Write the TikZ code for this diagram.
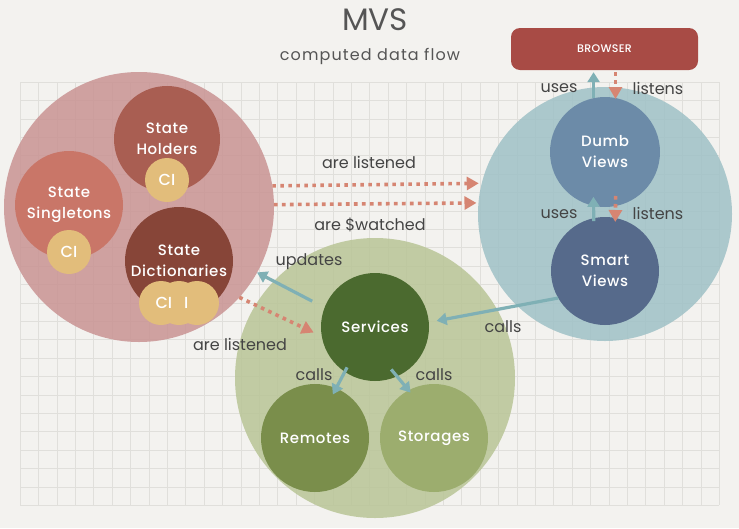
\documentclass[tikz,border=0pt]{standalone}
\usepackage{fontspec}
\setmainfont{Poppins}
\newfontfamily\nodefont{Poppins Medium}
\usetikzlibrary{arrows.meta}

\definecolor{paper}{HTML}{F3F2EF}
\definecolor{gridline}{HTML}{E0DFDB}
\definecolor{inkgrey}{HTML}{444444}
\definecolor{titlegrey}{HTML}{555555}
\definecolor{stateouter}{HTML}{C99393}
\definecolor{holders}{HTML}{A95E52}
\definecolor{singletons}{HTML}{C97668}
\definecolor{dicts}{HTML}{874538}
\definecolor{ciyellow}{HTML}{E2BD7B}
\definecolor{viewsouter}{HTML}{9FC1C6}
\definecolor{dumb}{HTML}{6C8BA8}
\definecolor{smart}{HTML}{566A8B}
\definecolor{browserred}{HTML}{A84B45}
\definecolor{servouter}{HTML}{B9C596}
\definecolor{services}{HTML}{4B6A2F}
\definecolor{remotes}{HTML}{7A8E4B}
\definecolor{storages}{HTML}{9CAD6E}
\definecolor{arrowteal}{HTML}{7FB0B5}
\definecolor{dotsalmon}{HTML}{D68572}

\tikzset{
  disc/.style={circle, inner sep=0pt, outer sep=0pt, text=white, align=center,
    font=\nodefont\fontsize{15}{22}\selectfont\addfontfeatures{LetterSpace=4}},
  group/.style={circle, inner sep=0pt, outer sep=0pt, fill opacity=0.85},
  cibadge/.style={circle, inner sep=0pt, outer sep=0pt, minimum size=44pt, fill=ciyellow,
    text=white, font=\nodefont\fontsize{16}{16}\selectfont},
  lbl/.style={text=inkgrey, inner sep=0pt, font=\fontsize{16}{16}\selectfont},
  tealarrow/.style={draw=arrowteal, line width=3.2pt, -{Triangle[length=10pt,width=12pt]}},
  dotarrow/.style={draw=dotsalmon, line width=3.6pt, dash pattern=on 3.6pt off 4.4pt,
    -{Triangle[length=12pt,width=13pt]}},
}

\begin{document}
\begin{tikzpicture}[x=1pt,y=-1pt]
\useasboundingbox (0,0) rectangle (739,528);
\fill[paper] (0,0) rectangle (739,528);

% squared paper
\foreach \i in {0,...,38}
  \draw[gridline, line width=0.6pt] (20+\i*18.4,82) -- (20+\i*18.4,505.2);
\foreach \j in {0,...,23}
  \draw[gridline, line width=0.6pt] (20,82+\j*18.4) -- (719.2,82+\j*18.4);

% headings
\node[text=titlegrey, font=\fontsize{31}{31}\selectfont] (title) at (375,20) {MVS};
\node[text=titlegrey, font=\fontsize{16}{16}\selectfont\addfontfeatures{LetterSpace=7}] (subtitle) at (370,56) {computed data flow};

% state group
\node[group, minimum size=270pt, fill=stateouter] (state) at (139,207) {};
\node[disc, minimum size=106pt, fill=holders] (holders) at (167,139) {State\\[-1pt]Holders};
\node[cibadge] (ciholders) at (167,180) {CI};
\node[disc, minimum size=108pt, fill=singletons] (singletons) at (69,205) {State\\[-1pt]Singletons};
\node[cibadge] (cisingle) at (69,252) {CI};
\node[disc, minimum size=108pt, fill=dicts] (dicts) at (179,261) {State\\[-1pt]Dictionaries};
\node[cibadge] (cidictc) at (197,303) {};
\node[cibadge] (cidictb) at (179,303) {};
\node[cibadge] (cidicta) at (161,303) {};
\node[text=white, font=\nodefont\fontsize{16}{16}\selectfont, inner sep=0pt] (cidtext) at (172,303) {CI\hspace{12pt}I};

% views group
\node[group, minimum size=254pt, fill=viewsouter] (views) at (605,214) {};
\node[disc, minimum size=110pt, fill=dumb] (dumbv) at (605,152) {Dumb\\[-1pt]Views};
\node[disc, minimum size=108pt, fill=smart] (smartv) at (605,271) {Smart\\[-1pt]Views};
\node[rectangle, rounded corners=9pt, fill=browserred, minimum width=187pt, minimum height=42pt,
  inner sep=0pt, text=white, font=\nodefont\fontsize{11}{11}\selectfont\addfontfeatures{LetterSpace=3}]
  (browser) at (604.5,49) {BROWSER};

% services group
\node[group, minimum size=280pt, fill=servouter] (servgroup) at (375,378) {};
\node[disc, minimum size=108pt, fill=services] (servicesn) at (375,327) {Services};
\node[disc, minimum size=108pt, fill=remotes] (remotesn) at (315,438) {Remotes};
\node[disc, minimum size=108pt, fill=storages] (storagesn) at (434,438) {Storages};

% state -> views
\draw[dotarrow, shorten >=3pt] (state.9.4) -- (views.166.8);
\draw[dotarrow, shorten >=2pt] (state.1.3) -- (views.175.5);
\node[lbl] (l1) at (369,162) {are listened};
\node[lbl] (l2) at (370,225) {are \$watched};

% views <-> browser
\draw[tealarrow, shorten >=2pt] (dumbv.102) -- (dumbv.102 |- browser.south);
\draw[dotarrow, shorten <=2pt, shorten >=-1pt] (dumbv.79 |- browser.south) -- (dumbv.79);
\node[lbl] (l3) at (559,88) {uses};
\node[lbl] (l4) at (658,88) {listens};

% smart <-> dumb
\draw[tealarrow, shorten <=-3pt, shorten >=-9pt] (smartv.102) -- (dumbv.258);
\draw[dotarrow, shorten <=-10pt, shorten >=-4pt] (dumbv.281) -- (smartv.79);
\node[lbl] (l5) at (559,214) {uses};
\node[lbl] (l6) at (658,213) {listens};

% services <-> state
\draw[tealarrow, shorten <=14pt] (servicesn.159) -- (state.-29);
\node[lbl] (l7) at (309,262) {updates};
\draw[dotarrow, shorten >=9pt] (state.-42.6) -- (servicesn.190);
\node[lbl] (l8) at (240,344) {are listened};

% smart -> services
\draw[tealarrow, shorten >=8pt] (smartv.210.8) -- (servicesn.5.5);
\node[lbl] (l9) at (503,327) {calls};

% services -> remotes / storages
\draw[tealarrow, shorten <=-5pt, shorten >=-7pt] (servicesn.236.6) -- (remotesn.67);
\draw[tealarrow, shorten <=-9pt, shorten >=-3pt] (servicesn.-66.3) -- (storagesn.118);
\node[lbl] (l10) at (314,375) {calls};
\node[lbl] (l11) at (434,375) {calls};
\end{tikzpicture}
\end{document}
